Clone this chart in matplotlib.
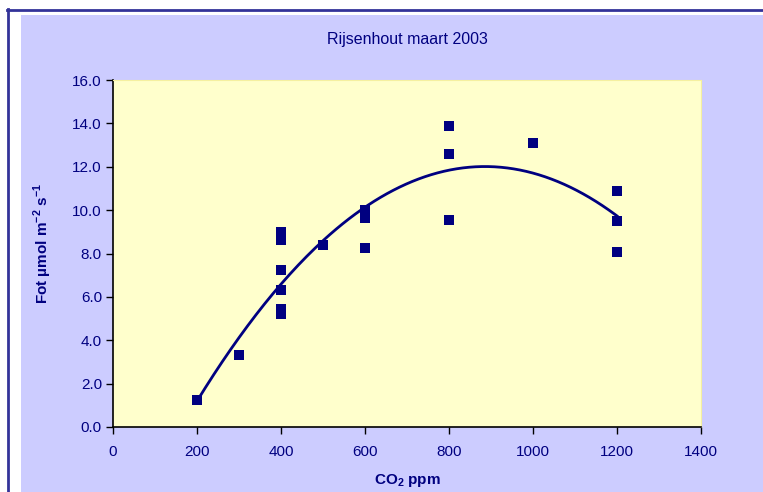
import numpy as np
import matplotlib
matplotlib.use('Agg')
import matplotlib.pyplot as plt
from matplotlib.patches import Rectangle
from matplotlib.lines import Line2D

plt.rcParams['font.family'] = ['Liberation Sans', 'DejaVu Sans']
plt.rcParams['mathtext.fontset'] = 'custom'
plt.rcParams['mathtext.rm'] = 'Liberation Sans'
plt.rcParams['mathtext.bf'] = 'Liberation Sans:bold'

# data
co2 = [200, 300, 400, 400, 400, 400, 400, 400, 500, 600, 600, 600,
       800, 800, 800, 1000, 1200, 1200, 1200]
fot = [1.25, 3.3, 9.0, 8.6, 7.25, 6.3, 5.45, 5.2, 8.4, 10.0, 9.65, 8.25,
       13.9, 12.6, 9.55, 13.1, 10.9, 9.5, 8.05]
x_ticks = [0, 200, 400, 600, 800, 1000, 1200, 1400]
y_ticks = [0, 2, 4, 6, 8, 10, 12, 14, 16]

navy = '#000080'
W, H = 763, 492
fig = plt.figure(figsize=(W / 100, H / 100), dpi=100, facecolor='white')

# lavender chart area and frame
fig.patches.append(Rectangle((21 / W, 0), 1, 1 - 15 / H, transform=fig.transFigure,
                             facecolor='#CCCCFF', edgecolor='none', zorder=-10))
fig.lines.append(Line2D([8 / W, 8 / W], [0, 1 - 9 / H], transform=fig.transFigure,
                        color='#333399', lw=2, zorder=-5))
fig.lines.append(Line2D([7 / W, 1], [1 - 10 / H, 1 - 10 / H], transform=fig.transFigure,
                        color='#333399', lw=2, zorder=-5))

ax = fig.add_axes([113 / W, 65 / H, 588 / W, 347 / H])
ax.set_zorder(1)
ax.set_facecolor('#FFFFCC')

ax.scatter(co2, fot, marker='s', s=55, color=navy, zorder=3, linewidths=0)

# second order polynomial trendline
coef = np.polyfit(co2, fot, 2)
xs = np.linspace(min(co2), max(co2), 200)
ax.plot(xs, np.polyval(coef, xs), color=navy, lw=2, zorder=2)

ax.set_xlim(0, 1400)
ax.set_ylim(0, 16)
ax.set_xticks(x_ticks)
ax.set_yticks(y_ticks)
ax.set_xticklabels([str(v) for v in x_ticks])
ax.set_yticklabels([f'{v:.1f}' for v in y_ticks])
ax.tick_params(direction='out', length=5, width=1, color='black',
               labelcolor=navy, labelsize=11, pad=3)
ax.tick_params(axis='x', pad=8)

for side in ['top', 'right']:
    ax.spines[side].set_color('#F5F0A0')
    ax.spines[side].set_linewidth(0.8)
for side in ['left', 'bottom']:
    ax.spines[side].set_color('black')
    ax.spines[side].set_linewidth(1.2)

ax.set_title('Rijsenhout maart 2003', color=navy, fontsize=11.5, y=1.08)
ax.set_xlabel(r'CO$_\mathbf{2}$ ppm', color=navy, fontsize=11, fontweight='bold')
ax.set_ylabel(r'Fot µmol m$^{\mathbf{-2}}$ s$^{\mathbf{-1}}$', color=navy,
              fontsize=11, fontweight='bold')
ax.xaxis.set_label_coords(0.5, -0.13)
ax.yaxis.set_label_coords(-0.10, 0.53)

plt.savefig('out.png', dpi=100, facecolor='white')
plt.close()
